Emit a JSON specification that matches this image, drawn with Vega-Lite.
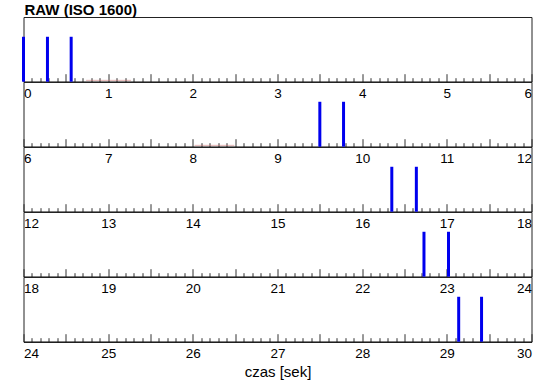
{
  "$schema": "https://vega.github.io/schema/vega-lite/v6.json",
  "padding": {"left": 21.5, "top": 2, "right": 5, "bottom": 5},
  "title": {"text": "RAW (ISO 1600)", "anchor": "start", "fontSize": 15, "fontWeight": "bold", "font": "Liberation Sans", "color": "black", "offset": -1, "dx": 3},
  "datasets": {
    "bars": [
      {"t": 0.0, "v": 1}, {"t": 0.283, "v": 1}, {"t": 0.563, "v": 1},
      {"t": 9.50, "v": 1}, {"t": 9.78, "v": 1},
      {"t": 16.35, "v": 1}, {"t": 16.64, "v": 1},
      {"t": 22.73, "v": 1}, {"t": 23.02, "v": 1},
      {"t": 29.14, "v": 1}, {"t": 29.41, "v": 1}
    ],
    "faint": [
      {"t0": 0.74, "t1": 1.27, "v": 0.03},
      {"t0": 8.02, "t1": 8.49, "v": 0.03}
    ]
  },
  "vconcat": [
    {"width": 508, "height": 64.7, "layer": [
      {"data": {"name": "bars"}, "transform": [{"filter": "datum.t >= 0 && datum.t < 6"}], "mark": {"type": "rule", "color": "#0000ee", "strokeWidth": 3},
       "encoding": {"x": {"field": "t", "type": "quantitative", "scale": {"domain": [0, 6], "nice": false, "zero": false}, "axis": {"title": null, "tickSize": {"condition": {"test": "datum.value % 0.5 === 0", "value": -8}, "value": -4}}}, "y": {"field": "v", "type": "quantitative", "scale": {"domain": [0, 1.44]}, "axis": null}, "y2": {"datum": 0}}},
      {"data": {"name": "faint"}, "transform": [{"filter": "datum.t0 >= 0 && datum.t0 < 6"}], "mark": {"type": "rule", "color": "#d07070", "opacity": 0.5, "strokeWidth": 1},
       "encoding": {"x": {"field": "t0", "type": "quantitative", "scale": {"domain": [0, 6], "nice": false, "zero": false}, "axis": {"title": null, "tickSize": {"condition": {"test": "datum.value % 0.5 === 0", "value": -8}, "value": -4}}}, "x2": {"field": "t1"}, "y": {"field": "v", "type": "quantitative", "scale": {"domain": [0, 1.44]}, "axis": null}}}
    ]},
    {"width": 508, "height": 64.7, "layer": [
      {"data": {"name": "bars"}, "transform": [{"filter": "datum.t >= 6 && datum.t < 12"}], "mark": {"type": "rule", "color": "#0000ee", "strokeWidth": 3},
       "encoding": {"x": {"field": "t", "type": "quantitative", "scale": {"domain": [6, 12], "nice": false, "zero": false}, "axis": {"title": null, "tickSize": {"condition": {"test": "datum.value % 0.5 === 0", "value": -8}, "value": -4}}}, "y": {"field": "v", "type": "quantitative", "scale": {"domain": [0, 1.44]}, "axis": null}, "y2": {"datum": 0}}},
      {"data": {"name": "faint"}, "transform": [{"filter": "datum.t0 >= 6 && datum.t0 < 12"}], "mark": {"type": "rule", "color": "#d07070", "opacity": 0.5, "strokeWidth": 1},
       "encoding": {"x": {"field": "t0", "type": "quantitative", "scale": {"domain": [6, 12], "nice": false, "zero": false}, "axis": {"title": null, "tickSize": {"condition": {"test": "datum.value % 0.5 === 0", "value": -8}, "value": -4}}}, "x2": {"field": "t1"}, "y": {"field": "v", "type": "quantitative", "scale": {"domain": [0, 1.44]}, "axis": null}}}
    ]},
    {"width": 508, "height": 64.7, "data": {"name": "bars"}, "transform": [{"filter": "datum.t >= 12 && datum.t < 18"}], "mark": {"type": "rule", "color": "#0000ee", "strokeWidth": 3},
     "encoding": {"x": {"field": "t", "type": "quantitative", "scale": {"domain": [12, 18], "nice": false, "zero": false}, "axis": {"title": null, "tickSize": {"condition": {"test": "datum.value % 0.5 === 0", "value": -8}, "value": -4}}}, "y": {"field": "v", "type": "quantitative", "scale": {"domain": [0, 1.44]}, "axis": null}, "y2": {"datum": 0}}},
    {"width": 508, "height": 64.7, "data": {"name": "bars"}, "transform": [{"filter": "datum.t >= 18 && datum.t < 24"}], "mark": {"type": "rule", "color": "#0000ee", "strokeWidth": 3},
     "encoding": {"x": {"field": "t", "type": "quantitative", "scale": {"domain": [18, 24], "nice": false, "zero": false}, "axis": {"title": null, "tickSize": {"condition": {"test": "datum.value % 0.5 === 0", "value": -8}, "value": -4}}}, "y": {"field": "v", "type": "quantitative", "scale": {"domain": [0, 1.44]}, "axis": null}, "y2": {"datum": 0}}},
    {"width": 508, "height": 64.7, "data": {"name": "bars"}, "transform": [{"filter": "datum.t >= 24 && datum.t <= 30"}], "mark": {"type": "rule", "color": "#0000ee", "strokeWidth": 3},
     "encoding": {"x": {"field": "t", "type": "quantitative", "scale": {"domain": [24, 30], "nice": false, "zero": false}, "axis": {"title": "czas [sek]", "tickSize": {"condition": {"test": "datum.value % 0.5 === 0", "value": -8}, "value": -4}}}, "y": {"field": "v", "type": "quantitative", "scale": {"domain": [0, 1.44]}, "axis": null}, "y2": {"datum": 0}}}
  ],
  "spacing": 0,
  "bounds": "flush",
  "config": {
    "view": {"stroke": "#222", "strokeWidth": 1},
    "font": "Liberation Sans",
    "axisX": {
      "tickCount": 60,
      "tickColor": "#333",
      "tickWidth": 1,
      "domainColor": "black",
      "domainWidth": 1,
      "grid": false,
      "labelExpr": "datum.value % 1 === 0 ? '' + datum.value : ''",
      "labelFlush": true,
      "labelOverlap": false,
      "labelFontSize": 13.5,
      "labelColor": "black",
      "labelPadding": 13,
      "labelFont": "Liberation Sans",
      "titleFont": "Liberation Sans",
      "titleFontSize": 15,
      "titleFontWeight": "normal",
      "titleColor": "black",
      "titlePadding": 0
    }
  }
}
